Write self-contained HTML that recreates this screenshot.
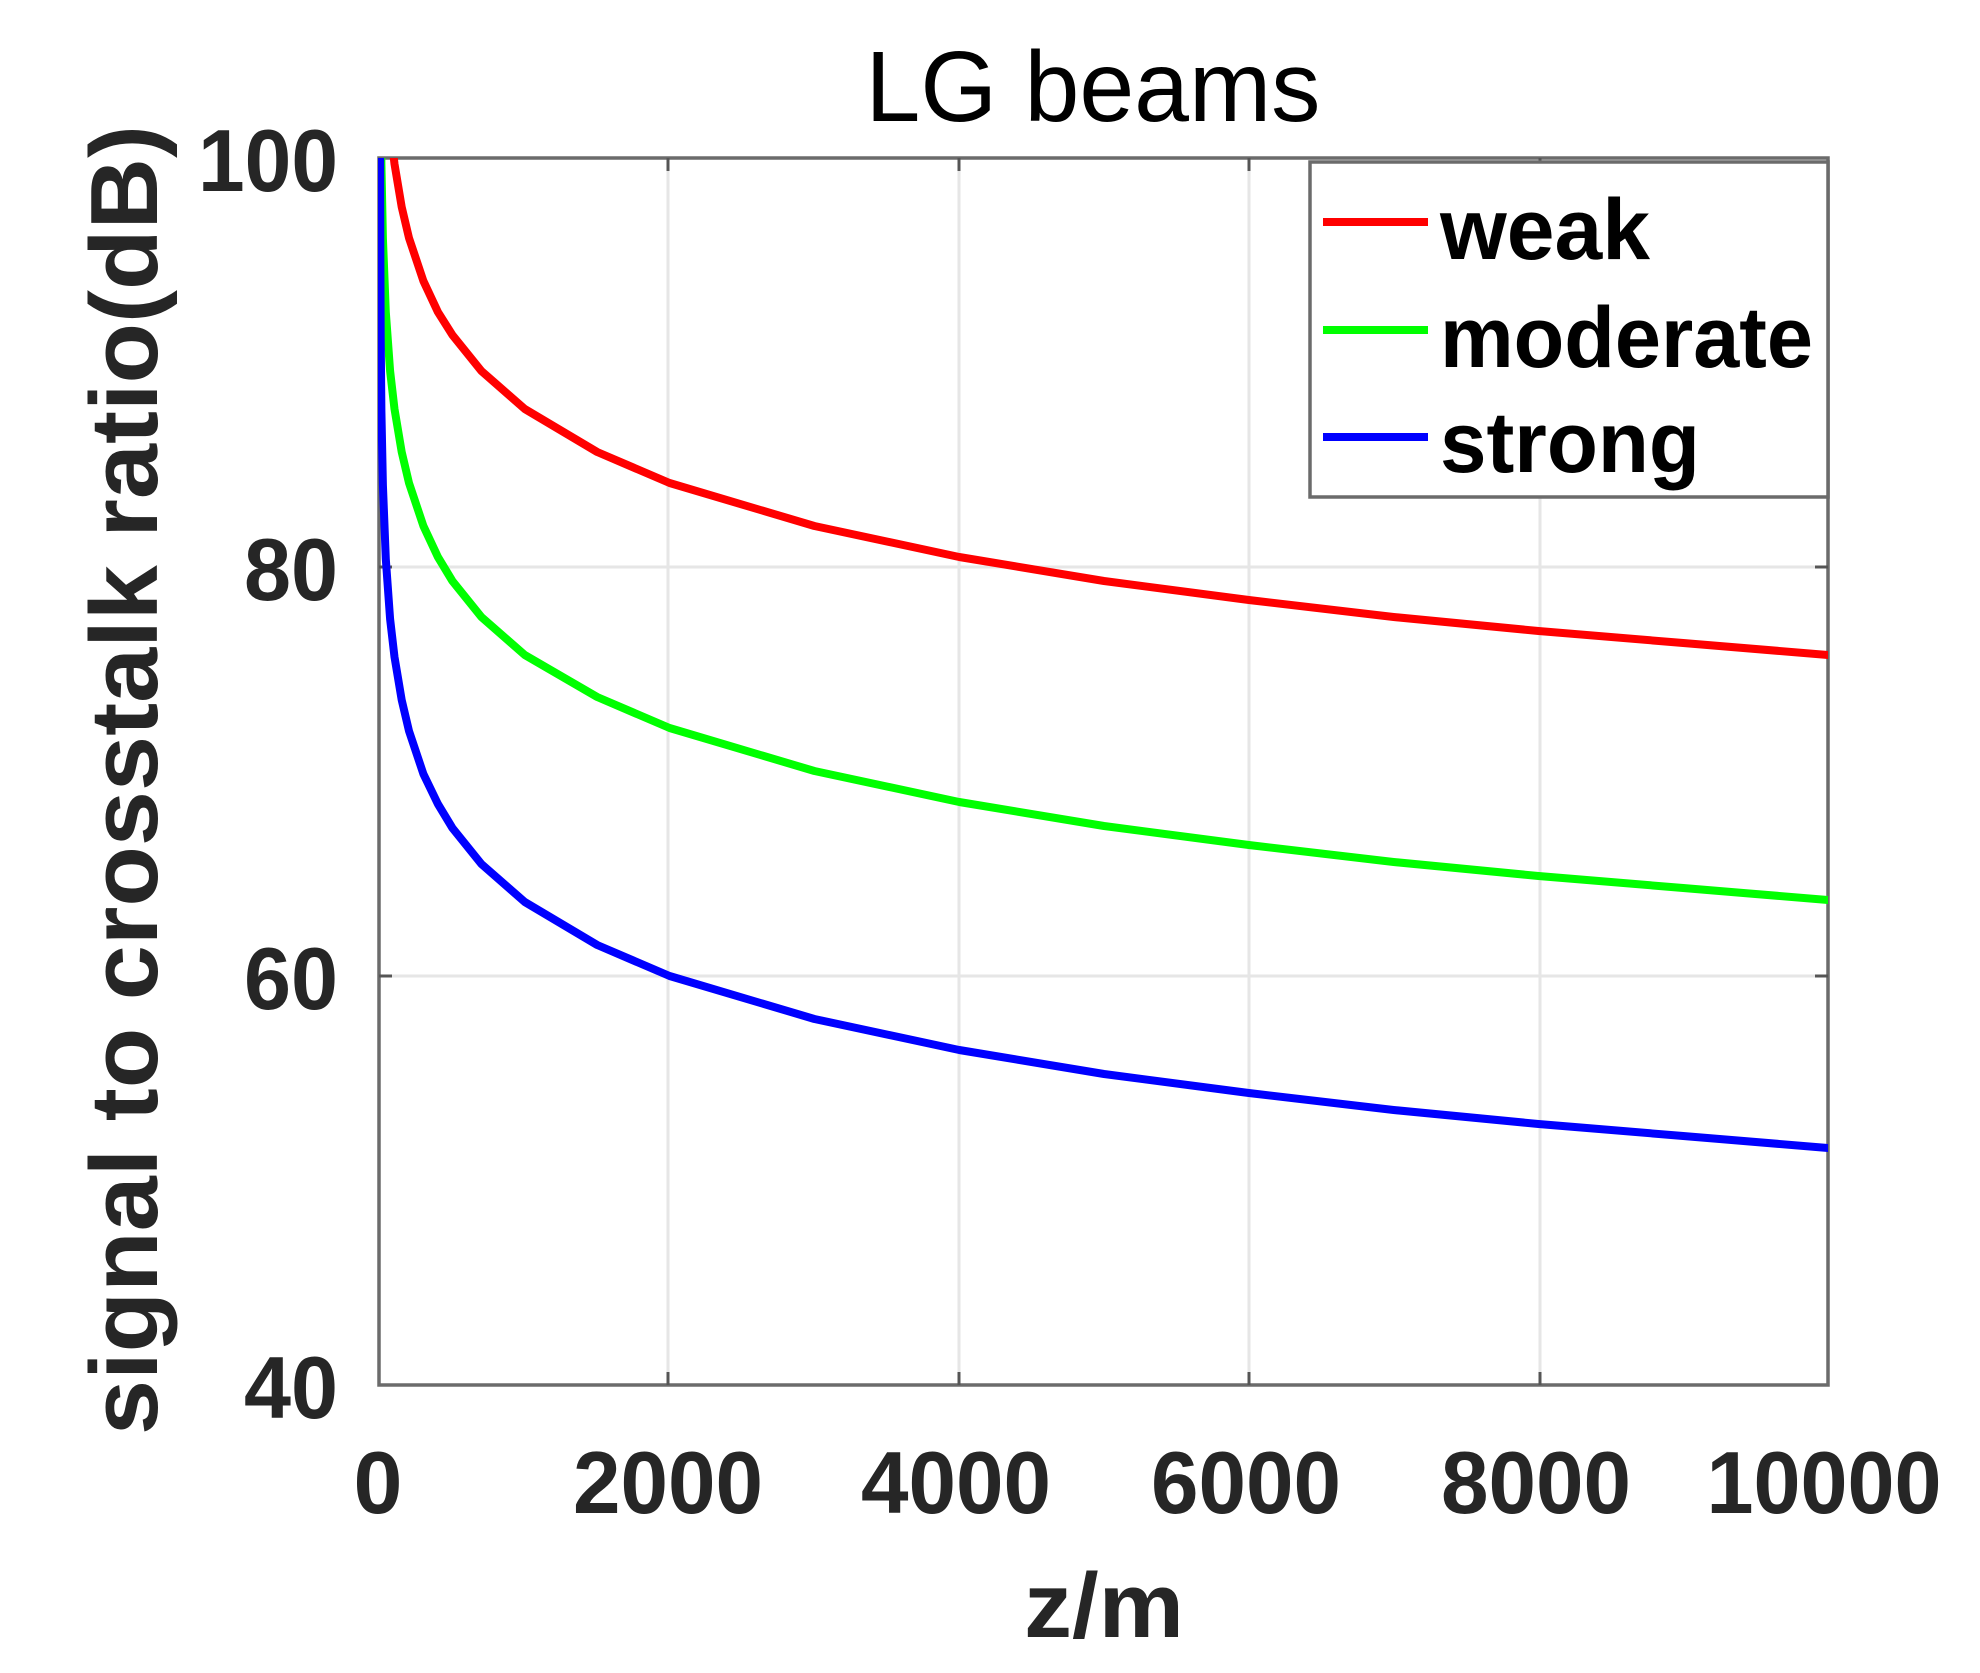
<!DOCTYPE html>
<html><head><meta charset="utf-8"><style>html,body{margin:0;padding:0;background:#fff;}svg{display:block}</style></head>
<body>
<svg width="1980" height="1673" viewBox="0 0 1980 1673" xmlns="http://www.w3.org/2000/svg">
<defs><clipPath id="c"><rect x="378" y="158" width="1450" height="1227"/></clipPath></defs>
<g stroke="#e6e6e6" stroke-width="3">
<line x1="668" y1="158" x2="668" y2="1385"/><line x1="959" y1="158" x2="959" y2="1385"/>
<line x1="1249" y1="158" x2="1249" y2="1385"/><line x1="1540" y1="158" x2="1540" y2="1385"/>
<line x1="378" y1="567" x2="1828" y2="567"/><line x1="378" y1="976" x2="1828" y2="976"/>
</g>
<rect x="379" y="158" width="1449" height="1227" fill="none" stroke="#6b6b6b" stroke-width="3.5"/>
<g stroke="#555" stroke-width="3">
<line x1="668" y1="1385" x2="668" y2="1372"/><line x1="959" y1="1385" x2="959" y2="1372"/><line x1="1249" y1="1385" x2="1249" y2="1372"/><line x1="1540" y1="1385" x2="1540" y2="1372"/>
<line x1="668" y1="158" x2="668" y2="171"/><line x1="959" y1="158" x2="959" y2="171"/><line x1="1249" y1="158" x2="1249" y2="171"/><line x1="1540" y1="158" x2="1540" y2="171"/>
<line x1="379" y1="567" x2="392" y2="567"/><line x1="379" y1="976" x2="392" y2="976"/>
<line x1="1828" y1="567" x2="1815" y2="567"/><line x1="1828" y1="976" x2="1815" y2="976"/>
</g>
<g clip-path="url(#c)" fill="none" stroke-width="8" stroke-linejoin="round" stroke-linecap="round">
<polyline stroke="#ff0000" points="390.1,126 394.5,164 401.7,207 409,238 423.4,281 437.9,312 452.4,335 481.4,371 524.8,409 597.2,452 669.6,483 814.4,526 959.2,557 1104,581 1248.8,600 1393.6,617 1538.4,631 1683.2,643 1828,655"/>
<polyline stroke="#00ff00" points="380.7,90 381.4,164 382.9,238 385.8,312 390.1,371 394.5,409 401.7,452 409,483 423.4,526 437.9,557 452.4,581 481.4,617 524.8,655 597.2,697 669.6,728 814.4,771 959.2,802 1104,826 1248.8,845 1393.6,862 1538.4,876 1683.2,888 1828,900"/>
<polyline stroke="#0000ff" points="380.05,90 380.1,166 380.3,240 380.7,338 381.4,411 382.9,485 385.8,559 390.1,619 394.5,657 401.7,700 409,731 423.4,774 437.9,804 452.4,828 481.4,864 524.8,902 597.2,945 669.6,976 814.4,1019 959.2,1050 1104,1074 1248.8,1093 1393.6,1110 1538.4,1124 1683.2,1136 1828,1148"/>
</g>
<rect x="1310" y="162" width="518" height="335" fill="#fff" stroke="#6b6b6b" stroke-width="3.5"/>
<g stroke-width="8"><line x1="1323" y1="222" x2="1428" y2="222" stroke="#ff0000"/><line x1="1323" y1="330" x2="1428" y2="330" stroke="#00ff00"/><line x1="1323" y1="437" x2="1428" y2="437" stroke="#0000ff"/></g>
<g font-family="Liberation Sans, Arial, sans-serif" font-weight="bold" font-size="86" fill="#000">
<text x="1440" y="259" textLength="210" lengthAdjust="spacingAndGlyphs">weak</text>
<text x="1440" y="367" textLength="373" lengthAdjust="spacingAndGlyphs">moderate</text>
<text x="1440" y="472" textLength="260" lengthAdjust="spacingAndGlyphs">strong</text>
</g>
<text x="1093" y="121" text-anchor="middle" font-family="Liberation Sans, Arial, sans-serif" font-size="100" fill="#000" textLength="455" lengthAdjust="spacingAndGlyphs">LG beams</text>
<g font-family="Liberation Sans, Arial, sans-serif" font-weight="bold" font-size="88" fill="#262626">
<text x="338" y="191" text-anchor="end" textLength="140" lengthAdjust="spacingAndGlyphs">100</text>
<text x="338" y="600" text-anchor="end" textLength="94" lengthAdjust="spacingAndGlyphs">80</text>
<text x="338" y="1009" text-anchor="end" textLength="94" lengthAdjust="spacingAndGlyphs">60</text>
<text x="338" y="1418" text-anchor="end" textLength="94" lengthAdjust="spacingAndGlyphs">40</text>
<text x="378" y="1513" text-anchor="middle">0</text>
<text x="668" y="1513" text-anchor="middle" textLength="190" lengthAdjust="spacingAndGlyphs">2000</text>
<text x="956" y="1513" text-anchor="middle" textLength="190" lengthAdjust="spacingAndGlyphs">4000</text>
<text x="1246" y="1513" text-anchor="middle" textLength="190" lengthAdjust="spacingAndGlyphs">6000</text>
<text x="1536" y="1513" text-anchor="middle" textLength="190" lengthAdjust="spacingAndGlyphs">8000</text>
<text x="1824" y="1513" text-anchor="middle" textLength="235" lengthAdjust="spacingAndGlyphs">10000</text>
<text x="1104" y="1637" text-anchor="middle" font-size="92" textLength="160" lengthAdjust="spacingAndGlyphs">z/m</text>
<text transform="translate(157,780) rotate(-90)" text-anchor="middle" font-size="96" textLength="1310" lengthAdjust="spacingAndGlyphs">signal to crosstalk ratio(dB)</text>
</g>
</svg>
</body></html>
